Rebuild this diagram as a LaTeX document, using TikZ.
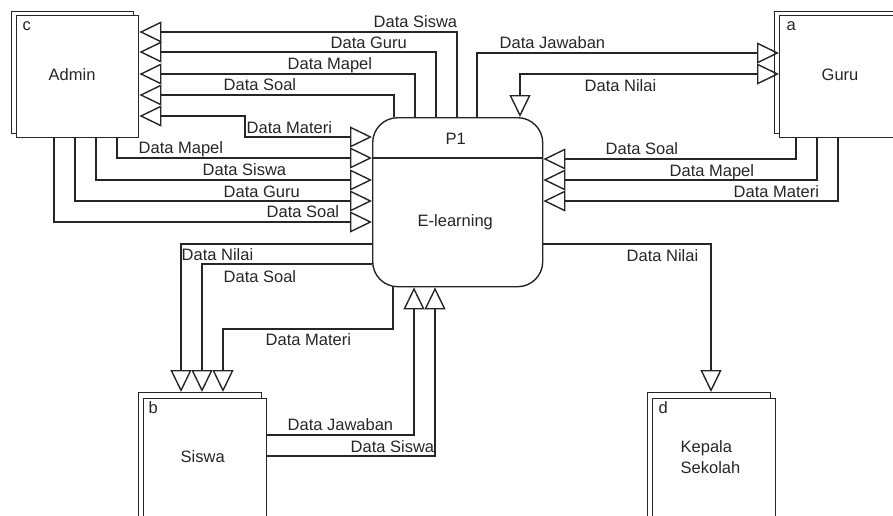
\documentclass[tikz,border=0pt]{standalone}
\usepackage{fontspec}
\setmainfont{Liberation Sans}
\usetikzlibrary{arrows.meta}
\definecolor{ink}{HTML}{262626}
\begin{document}
\begin{tikzpicture}[x=1pt,y=-1pt,line width=1.4pt,draw=ink,
  box/.style={draw=ink, fill=white, inner sep=0pt, anchor=north west},
  proc/.style={draw=ink, fill=white, inner sep=0pt, anchor=north west, rounded corners=25pt},
  lbl/.style={anchor=base west, inner sep=0pt, text=ink, font=\fontsize{16.5}{19}\selectfont},
  fl/.style={draw=ink, -{Triangle[open,length=22pt,width=21pt]}},
  fl2/.style={draw=ink, {Triangle[open,length=22pt,width=21pt]}-{Triangle[open,length=22pt,width=21pt]}}]
\useasboundingbox (0,0) rectangle (893,515);
% entities
\node[box, minimum width=122pt, minimum height=122pt] (adminb) at (11,11) {};
\node[box, minimum width=122pt, minimum height=122pt] (admin) at (16,15) {};
\node[box, minimum width=130pt, minimum height=122pt] (gurub) at (774,11) {};
\node[box, minimum width=130pt, minimum height=122pt] (guru) at (779,15) {};
\node[box, minimum width=123pt, minimum height=140pt] (siswab) at (138,392) {};
\node[box, minimum width=123pt, minimum height=140pt] (siswa) at (143,398) {};
\node[box, minimum width=123pt, minimum height=140pt] (kepb) at (647,392) {};
\node[box, minimum width=123pt, minimum height=140pt] (kep) at (652,398) {};
% process
\node[proc, minimum width=170pt, minimum height=169pt] (proc) at (372,117) {};
\draw (proc.west |- 0,158) -- (proc.east |- 0,158);
% entity texts
\node[lbl] (tc) at (22,30) {c};
\node[lbl] (tadmin) at (48,80) {Admin};
\node[lbl] (ta) at (786,30) {a};
\node[lbl] (tguru) at (821,80) {Guru};
\node[lbl] (tb) at (148,413) {b};
\node[lbl] (tsiswa) at (180,462) {Siswa};
\node[lbl] (td) at (658,413) {d};
\node[lbl] (tkep1) at (680,452) {Kepala};
\node[lbl] (tkep2) at (680,473) {Sekolah};
\node[lbl] (tp1) at (445,144) {P1};
\node[lbl] (tel) at (417,226) {E-learning};
% flows into Admin
\draw[fl] (proc.north -| 457,0) |- (admin.east |- 0,32);
\draw[fl] (proc.north -| 436,0) |- (admin.east |- 0,52);
\draw[fl] (proc.north -| 415,0) |- (admin.east |- 0,74);
\draw[fl] (proc.north -| 394,0) |- (admin.east |- 0,95);
\draw[fl2] (proc.west |- 0,137) -| (245,116) -- (admin.east |- 0,116);
% flows from Admin
\draw[fl] (admin.south -| 117,0) |- (proc.west |- 0,158);
\draw[fl] (admin.south -| 96,0) |- (proc.west |- 0,180);
\draw[fl] (admin.south -| 75,0) |- (proc.west |- 0,201);
\draw[fl] (admin.south -| 54,0) |- (proc.west |- 0,222);
% Guru
\draw[fl] (proc.north -| 477,0) |- (guru.west |- 0,53);
\draw[fl2] (guru.west |- 0,74) -| (proc.north -| 520,0);
\draw[fl] (guru.south -| 796,0) |- (proc.east |- 0,159);
\draw[fl] (guru.south -| 817,0) |- (proc.east |- 0,180);
\draw[fl] (guru.south -| 838,0) |- (proc.east |- 0,201);
% Siswa
\draw[fl] (proc.west |- 0,244) -| (siswab.north -| 181,0);
\draw[fl] (proc.west |- 0,264) -| (siswab.north -| 202,0);
\draw[fl] (proc.south -| 393,0) |- (223,329) -- (siswab.north -| 223,0);
\draw[fl] (siswa.east |- 0,435) -| (proc.south -| 414,0);
\draw[fl] (siswa.east |- 0,456) -| (proc.south -| 435,0);
% Kepala Sekolah
\draw[fl] (proc.east |- 0,244) -| (kepb.north -| 711,0);
% flow labels
\node[lbl] (l1) at (373,27) {Data Siswa};
\node[lbl] (l2) at (330,48) {Data Guru};
\node[lbl] (l3) at (287,69) {Data Mapel};
\node[lbl] (l4) at (223,90) {Data Soal};
\node[lbl] (l5) at (246,133) {Data Materi};
\node[lbl] (l6) at (138,153) {Data Mapel};
\node[lbl] (l7) at (202,175) {Data Siswa};
\node[lbl] (l8) at (223,197) {Data Guru};
\node[lbl] (l9) at (266,217) {Data Soal};
\node[lbl] (g1) at (499,48) {Data Jawaban};
\node[lbl] (g2) at (584,91) {Data Nilai};
\node[lbl] (g3) at (605,154) {Data Soal};
\node[lbl] (g4) at (669,176) {Data Mapel};
\node[lbl] (g5) at (733,197) {Data Materi};
\node[lbl] (s1) at (181,260) {Data Nilai};
\node[lbl] (s2) at (223,282) {Data Soal};
\node[lbl] (s3) at (265,345) {Data Materi};
\node[lbl] (s4) at (287,430) {Data Jawaban};
\node[lbl] (s5) at (350,452) {Data Siswa};
\node[lbl] (k1) at (626,261) {Data Nilai};
\end{tikzpicture}
\end{document}
